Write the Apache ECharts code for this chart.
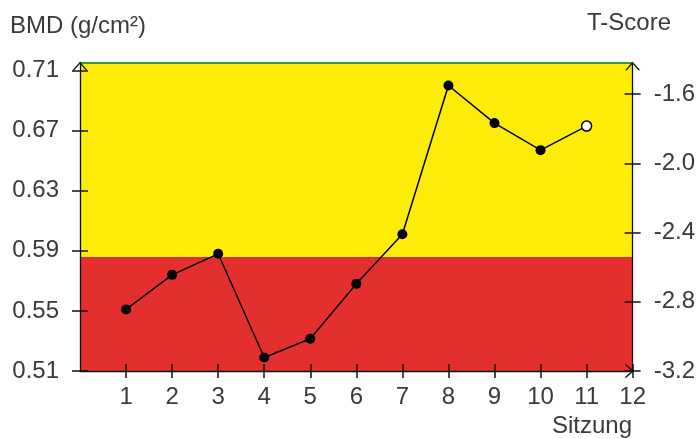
<!DOCTYPE html>
<html>
<head>
<meta charset="utf-8">
<script src="https://cdn.jsdelivr.net/npm/echarts@6/dist/echarts.min.js"></script>
<style>html,body{margin:0;padding:0;background:#fff}#c{width:698px;height:439px}</style>
</head>
<body>
<div id="c"></div>
<script>
// ---- data ----
const sessions = [1, 2, 3, 4, 5, 6, 7, 8, 9, 10, 11];
const bmd = [0.551, 0.574, 0.588, 0.519, 0.5315, 0.568, 0.601, 0.700, 0.675, 0.657, 0.673];
const bmdTicks = [0.51, 0.55, 0.59, 0.63, 0.67, 0.71];
const tScoreTicks = [-3.2, -2.8, -2.4, -2.0, -1.6];
const xTicks = [1, 2, 3, 4, 5, 6, 7, 8, 9, 10, 11, 12];
const redZoneTop = 0.586;      // boundary between red and yellow zones (BMD)
const bmdMin = 0.51, bmdMax = 0.715;
const tMin = -3.2, tMax = -1.42;
const xMin = 0, xMax = 12;

const FONT = 'Liberation Sans, Arial, sans-serif';
const TXT = '#3a3a3a';
const arrowV = 'path://M0,8 L7,0 L14,8 L12.4,8 L7,2 L1.6,8 Z';

const chart = echarts.init(document.getElementById('c'), null, {renderer: 'canvas'});

const seriesData = sessions.map((s, i) => {
  const item = {value: [s, bmd[i]]};
  if (i === sessions.length - 1) {
    item.itemStyle = {color: '#ffffff', borderColor: '#000', borderWidth: 1.5};
  }
  return item;
});

const lbl = {fontFamily: FONT, fontSize: 24, color: TXT};

function yAx(pos, min, max, ticks, fmt, inside, showLabel, margin) {
  return {
    type: 'value', position: pos, min: min, max: max, z: 10,
    splitLine: {show: false},
    axisLine: {show: !inside, onZero: false, lineStyle: {color: '#111', width: 1.3},
      symbol: ['none', arrowV], symbolSize: [15, 9], symbolOffset: [0, -3]},
    axisTick: {show: true, inside: inside, length: 8, customValues: ticks, lineStyle: {color: '#111', width: 1.5}},
    axisLabel: Object.assign({show: showLabel, margin: margin, customValues: ticks, formatter: fmt}, lbl)
  };
}

chart.setOption({
  animation: false,
  backgroundColor: '#ffffff',
  grid: {left: 80, right: 65, top: 63, bottom: 68, containLabel: false},
  xAxis: [
    {
      type: 'value', min: xMin, max: xMax, position: 'bottom', z: 10,
      splitLine: {show: false},
      axisLine: {onZero: false, lineStyle: {color: '#111', width: 1.3},
        symbol: ['none', arrowV], symbolSize: [15, 9], symbolOffset: [0, -3]},
      axisTick: {inside: false, length: 7, customValues: xTicks, lineStyle: {color: '#111', width: 1.5}},
      axisLabel: Object.assign({margin: 14, customValues: xTicks, formatter: v => String(v)}, lbl)
    },
    {
      type: 'value', min: xMin, max: xMax, position: 'bottom', z: 10,
      splitLine: {show: false},
      axisLine: {show: false, onZero: false},
      axisTick: {inside: true, length: 7, customValues: xTicks, lineStyle: {color: '#111', width: 1.5}},
      axisLabel: {show: false}
    }
  ],
  yAxis: [
    yAx('left', bmdMin, bmdMax, bmdTicks, v => v.toFixed(2), false, true, 21),
    yAx('right', tMin, tMax, tScoreTicks, v => v.toFixed(1), false, true, 21),
    yAx('left', bmdMin, bmdMax, bmdTicks, v => v.toFixed(2), true, false, 21),
    yAx('right', tMin, tMax, tScoreTicks, v => v.toFixed(1), true, false, 21)
  ],
  graphic: [
    {type: 'text', left: 10, top: 14, style: {text: 'BMD (g/cm²)', font: '24px ' + FONT, fill: TXT}},
    {type: 'text', left: 587, top: 11, style: {text: 'T-Score', font: '24px ' + FONT, fill: TXT}},
    {type: 'text', left: 552, top: 414, style: {text: 'Sitzung', font: '24px ' + FONT, fill: TXT}}
  ],
  series: [{
    type: 'line',
    xAxisIndex: 0, yAxisIndex: 0,
    data: seriesData,
    symbol: 'circle', symbolSize: 10,
    itemStyle: {color: '#000'},
    lineStyle: {color: '#000', width: 1.5},
    z: 5,
    markArea: {
      silent: true,
      data: [
        [{yAxis: bmdMin, itemStyle: {color: '#e3302f'}}, {yAxis: redZoneTop}],
        [{yAxis: redZoneTop, itemStyle: {color: '#fdec08'}}, {yAxis: bmdMax}]
      ]
    },
    markLine: {
      silent: true, symbol: 'none', label: {show: false}, precision: 5,
      lineStyle: {color: '#2e9e3a', width: 2, type: 'solid'},
      data: [{yAxis: bmdMax}]
    }
  }]
});
</script>
</body>
</html>
